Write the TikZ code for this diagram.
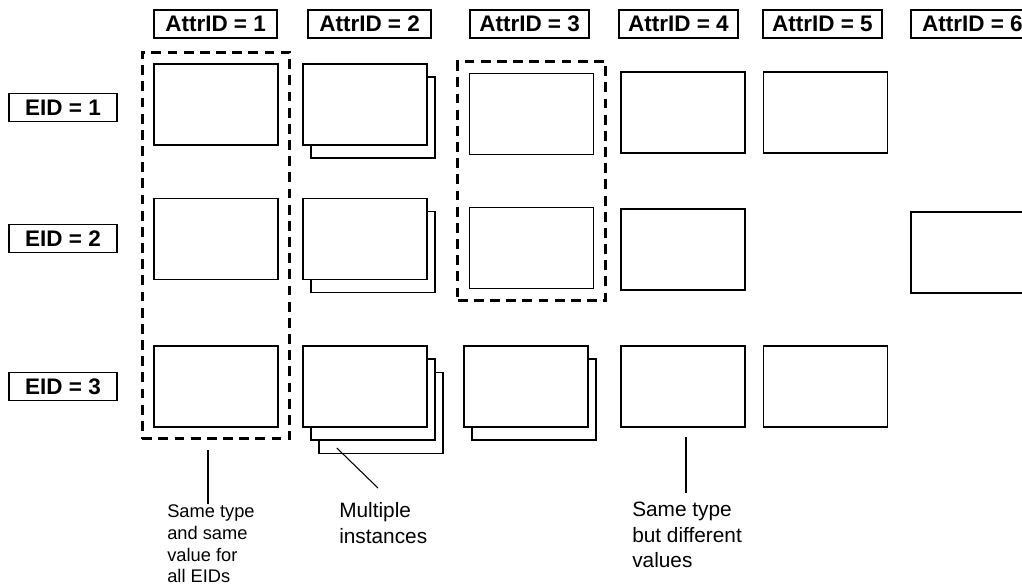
\documentclass[tikz,border=0pt]{standalone}
\usepackage{fontspec}
\setmainfont{Liberation Sans}
\usetikzlibrary{
    positioning,
    fit,
}

\begin{document}
\begin{tikzpicture}[
    tag/.style={draw, line width=0.9pt, minimum width=#1, minimum height=0.7cm, inner sep=0pt, font=\fontsize{16}{19}\selectfont\bfseries},
    cell/.style={draw, fill=white, line width=0.9pt, minimum width=3.1cm, minimum height=2.025cm, inner sep=0pt},
    layer/.style={cell, xshift=#1*0.2cm, yshift=-#1*0.33cm},
    grp/.style={draw, line width=2.1pt, dash pattern=on 7pt off 4.5pt, inner sep=0.28cm},
    note/.style={anchor=north west, inner sep=0pt, align=left},
    pointer/.style={line width=0.75pt}
]
    \clip (0,0) rectangle (25.55,-14.65);
    % column and row headers
    \node[tag=3.075cm] (h1) at ( 5.39,-0.6) {AttrID = 1};
    \node[tag=3.075cm] (h2) at ( 9.24,-0.6) {AttrID = 2};
    \node[tag=2.975cm] (h3) at (13.24,-0.6) {AttrID = 3};
    \node[tag=2.975cm] (h4) at (16.96,-0.6) {AttrID = 4};
    \node[tag=2.975cm] (h5) at (20.56,-0.6) {AttrID = 5};
    \node[tag=3.075cm] (h6) at (24.31,-0.6) {AttrID = 6};
    \node[tag=2.7cm] (e1) at (1.575,-2.69) {EID = 1};
    \node[tag=2.7cm] (e2) at (1.575,-5.96) {EID = 2};
    \node[tag=2.7cm] (e3) at (1.575,-9.66) {EID = 3};
    % attribute instances
    \node[cell] (a11) at ( 5.4,  -2.61) {};
    \node[cell] (a12) at ( 5.4,  -5.975) {};
    \node[cell] (a13) at ( 5.4,  -9.66) {};
    \node[layer=1] (a21b) at ( 9.125,-2.61) {};
    \node[cell] (a21) at ( 9.125,-2.61) {};
    \node[layer=1] (a22b) at ( 9.125,-5.975) {};
    \node[cell] (a22) at ( 9.125,-5.975) {};
    \node[layer=2] (a23c) at ( 9.125,-9.66) {};
    \node[layer=1] (a23b) at ( 9.125,-9.66) {};
    \node[cell] (a23) at ( 9.125,-9.66) {};
    \node[cell] (a31) at (13.29, -2.85) {};
    \node[cell] (a32) at (13.29, -6.2) {};
    \node[layer=1] (a33b) at (13.15, -9.66) {};
    \node[cell] (a33) at (13.15, -9.66) {};
    \node[cell] (a41) at (17.075,-2.81) {};
    \node[cell] (a42) at (17.075,-6.24) {};
    \node[cell] (a43) at (17.075,-9.66) {};
    \node[cell] (a51) at (20.64, -2.81) {};
    \node[cell] (a53) at (20.64, -9.66) {};
    \node[cell] (a62) at (24.325,-6.31) {};
    % shared values
    \node[grp, fit=(a11)(a13)] (g1) {};
    \node[grp, fit=(a31)(a32)] (g3) {};
    % callouts
    \node[note, font=\fontsize{13}{15.5}\selectfont] (n1) at (4.175,-12.61) {Same type\\and same\\value for\\all EIDs};
    \node[note, font=\fontsize{14.8}{18.6}\selectfont] (n2) at (8.475,-12.55) {Multiple\\instances};
    \node[note, font=\fontsize{14.8}{18.2}\selectfont] (n4) at (15.8,-12.55) {Same type\\but different\\values};
    \coordinate (p1) at (5.2,-11.25);
    \coordinate (p2) at (8.42,-11.2);
    \coordinate (q2) at (9.45,-12.2);
    \coordinate (p4) at (17.15,-10.925);
    \coordinate (q4) at (17.15,-12.325);
    \draw[pointer] (p1) -- (p1 |- n1.north);
    \draw[pointer] (p2) -- (q2);
    \draw[pointer] (p4) -- (q4);
\end{tikzpicture}
\end{document}
